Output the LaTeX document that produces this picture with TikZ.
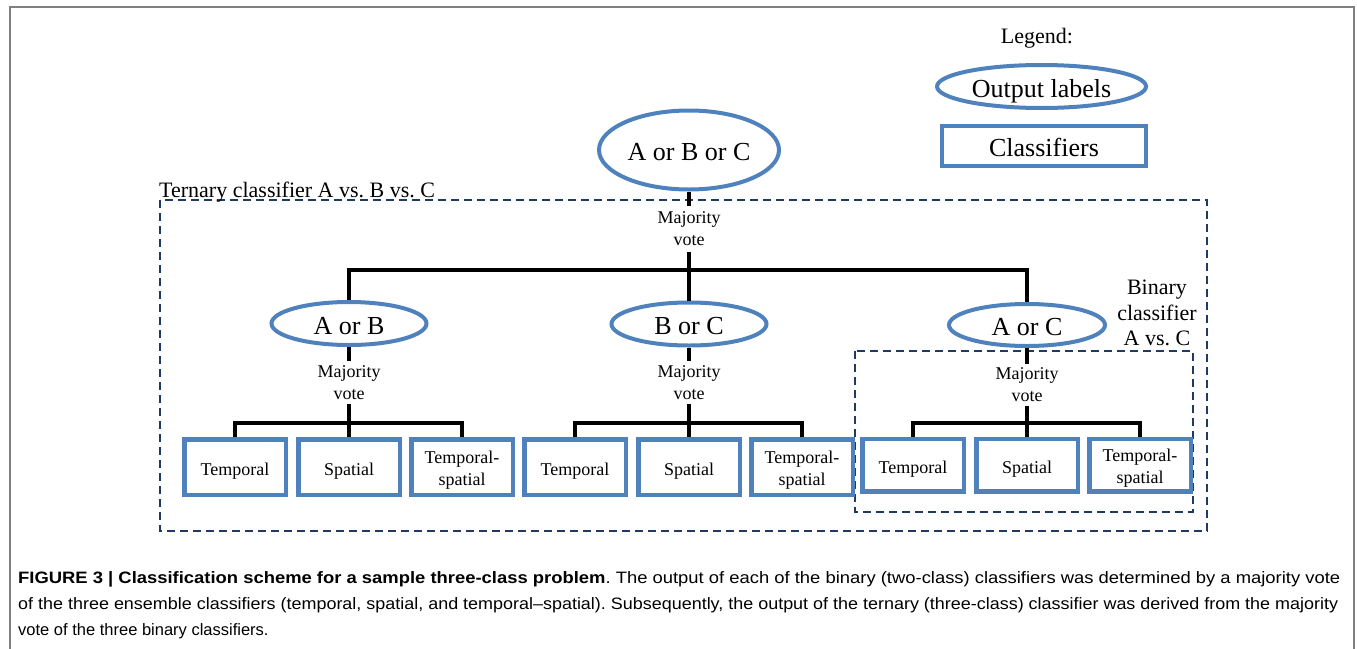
\documentclass[tikz,border=0pt]{standalone}
\usepackage{fontspec}
\setmainfont{Liberation Serif}
\newfontfamily\capfont{Liberation Sans}
\usetikzlibrary{shapes.geometric}
\definecolor{ovalblue}{HTML}{4F81BD}
\definecolor{dashnavy}{HTML}{1F3B63}
\definecolor{framegray}{HTML}{7F7F7F}
\newcommand\fsz[2]{\fontsize{#1}{#2}\selectfont}
\frenchspacing
\begin{document}
\begin{tikzpicture}[x=1pt,y=-1pt,
  oval/.style={ellipse,draw=ovalblue,line width=4pt,inner sep=0pt,text height=21pt,text depth=0pt,font=\fsz{26}{30}},
  clf/.style={rectangle,draw=ovalblue,line width=4.5pt,minimum width=101.5pt,inner sep=0pt,align=center,font=\fsz{18}{22}},
  clfone/.style={clf,text height=16pt,text depth=0pt},
  vote/.style={align=center,inner sep=0pt,font=\fsz{18}{22}},
  conn/.style={draw=black,line width=4pt,line join=miter},
  dbox/.style={draw=dashnavy,line width=2.2pt,dash pattern=on 8pt off 5pt},
  lbl/.style={inner sep=0pt,font=\fsz{22}{25.5}},
  capline/.style={inner sep=0pt,anchor=base west,font=\capfont\fsz{16.5}{26}}]
\useasboundingbox (0,0) rectangle (1357,648);
% outer frame
\draw[framegray,line width=2pt] (10,650) -- (10,7) -- (1354,7) -- (1354,650);
% dashed group boxes
\draw[dbox] (160,200) rectangle (1207,531);
\draw[dbox] (855,351) rectangle (1193,512);
\node[lbl,anchor=base west] (tern) at (159,197) {Ternary classifier A vs. B vs. C};
\node[lbl,align=center] (bin) at (1157,313) {Binary\\classifier\\A vs. C};
% legend
\node[lbl,anchor=base] (leg) at (1037,43) {Legend:};
\node[oval,minimum width=209pt,minimum height=43pt] (lo) at (1041.5,86.5) {Output labels};
\node[rectangle,draw=ovalblue,line width=4.5pt,minimum width=204pt,minimum height=40pt,inner sep=0pt,text height=21pt,text depth=0pt,font=\fsz{26}{30}] (lc) at (1044,146) {Classifiers};
% top level
\node[oval,minimum width=180pt,minimum height=79pt] (top) at (689,150) {A or B or C};
\node[vote,minimum height=46pt] (v0) at (689,229) {Majority\\vote};
\coordinate (h0) at (689,270);
\node[oval,minimum width=155pt,minimum height=43pt] (ab) at (349,323.5) {A or B};
\node[oval,minimum width=155pt,minimum height=43pt] (bc) at (689,324) {B or C};
\node[oval,minimum width=156pt,minimum height=42pt] (ac) at (1027,325) {A or C};
\draw[conn] (top.south) -- (v0.north);
\draw[conn] (v0.south) -- (h0);
\draw[conn] (ab.north) -- (ab.north |- h0) -- (ac.north |- h0) -- (ac.north);
\draw[conn] (h0) -- (bc.north);
% second level groups
\foreach \n/\x/\vy/\vh/\by/\bh in {ab/349/382.5/43/467/55.5, bc/689/382.5/43/467/55.5, ac/1027/385/42/465/52.5}{
  \node[vote,minimum height=\vh pt] (\n-v) at (\x,\vy) {Majority\\vote};
  \coordinate (\n-h) at (\x,423);
  \node[clfone,minimum height=\bh pt] (\n-t) at (\x-114,\by) {Temporal};
  \node[clfone,minimum height=\bh pt] (\n-s) at (\x,\by) {Spatial};
  \node[clf,minimum height=\bh pt] (\n-ts) at (\x+113,\by) {\rule{0pt}{18pt}Temporal-\\spatial};
  \draw[conn] (\n.south) -- (\n-v.north);
  \draw[conn] (\n-v.south) -- (\n-h);
  \draw[conn] (\n-t.north) -- (\n-t.north |- \n-h) -- (\n-ts.north |- \n-h) -- (\n-ts.north);
  \draw[conn] (\n-h) -- (\n-s.north);
}
% caption
\node[capline] (cap1) at (18,583) {\resizebox{1322pt}{\height}{\textbf{FIGURE 3 | Classification scheme for a sample three-class problem}. The output of each of the binary (two-class) classifiers was determined by a majority vote}};
\node[capline] (cap2) at (18,609) {\resizebox{1320pt}{\height}{of the three ensemble classifiers (temporal, spatial, and temporal–spatial). Subsequently, the output of the ternary (three-class) classifier was derived from the majority}};
\node[capline] (cap3) at (18,635) {vote of the three binary classifiers.};
\end{tikzpicture}
\end{document}
